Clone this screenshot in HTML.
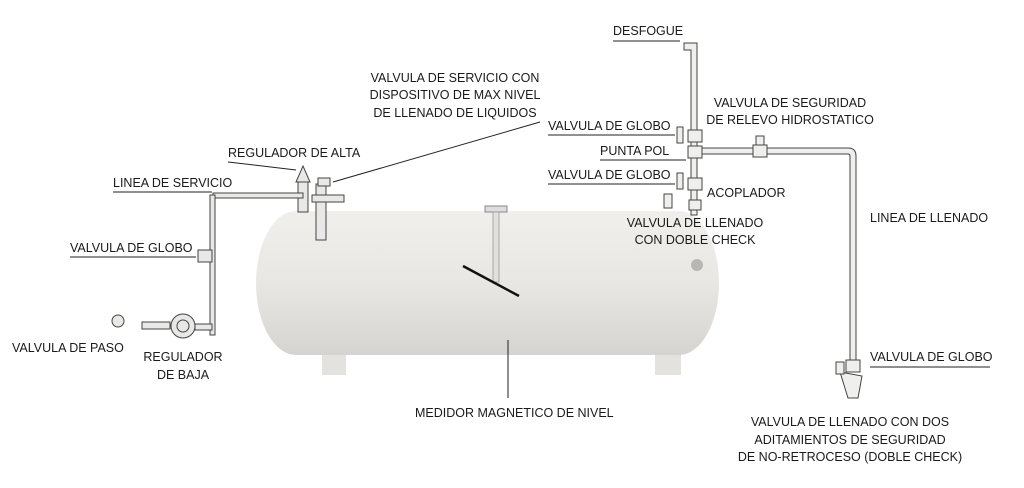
<!DOCTYPE html>
<html><head><meta charset="utf-8"><style>
html,body{margin:0;padding:0;background:#fff;}
svg{display:block}
text{font-family:"Liberation Sans Narrow","Liberation Sans",sans-serif;font-size:12.5px;fill:#1a1a1a;}
</style></head><body>
<svg width="1024" height="488" viewBox="0 0 1024 488">
<defs>
<linearGradient id="tg" x1="0" y1="0" x2="0" y2="1">
<stop offset="0" stop-color="#f0efec"/><stop offset="0.5" stop-color="#e9e7e3"/><stop offset="1" stop-color="#d6d4d0"/></linearGradient>
</defs>
<!-- legs -->
<rect x="322" y="335" width="24" height="40" fill="#e4e2de"/>
<rect x="655" y="335" width="26" height="40" fill="#e4e2de"/>
<!-- tank -->
<rect x="256" y="211" width="463" height="144" rx="40" ry="72" fill="url(#tg)"/>
<circle cx="697" cy="265" r="6" fill="#b9b7b3"/>
<!-- gauge -->
<rect x="485" y="206" width="22" height="6" fill="#ddd" stroke="#888"/>
<rect x="493" y="212" width="6" height="70" fill="#e2e0dc" stroke="#999" stroke-width="0.8"/>
<line x1="463" y1="266" x2="519" y2="296" stroke="#111" stroke-width="2.5"/>
<line x1="508" y1="340" x2="508" y2="398" stroke="#222" stroke-width="1"/>
<!-- left valves -->
<g fill="#e8e8e6" stroke="#444" stroke-width="1">
<rect x="298" y="182" width="10" height="30"/>
<path d="M296 182 L303 166 L310 182 Z"/>
<rect x="316" y="184" width="10" height="56"/>
<rect x="312" y="195" width="32" height="7"/>
<rect x="318" y="178" width="12" height="8"/>
<rect x="213" y="193" width="90" height="5"/>
<rect x="210" y="195" width="5" height="140"/>
<rect x="198" y="250" width="14" height="12"/>
<rect x="142" y="322" width="28" height="7"/>
<circle cx="183" cy="326" r="12"/><circle cx="183" cy="326" r="6"/>
<circle cx="118" cy="321" r="6"/>
<rect x="195" y="324" width="17" height="6"/>
</g>
<!-- right pipes -->
<g fill="#efefed" stroke="#444" stroke-width="1">
<path d="M684 43 L697 43 L697 215 L691 215 L691 50 L684 50 Z"/>
<rect x="688" y="130" width="14" height="12"/>
<rect x="677" y="127" width="6" height="16"/>
<rect x="688" y="146" width="14" height="12"/>
<path d="M702 148 L848 148 Q856 148 856 156 L856 360 L850 360 L850 156 Q850 154 848 154 L702 154 Z"/>
<rect x="753" y="145" width="14" height="12"/>
<rect x="756" y="136" width="8" height="9"/>
<rect x="688" y="178" width="14" height="12"/>
<rect x="677" y="173" width="6" height="16"/>
<rect x="689" y="200" width="12" height="10"/>
<rect x="664" y="194" width="8" height="14"/>
<rect x="846" y="360" width="14" height="12"/>
<path d="M840 372 L862 376 L858 398 L848 398 Z"/>
<rect x="836" y="362" width="8" height="12"/>
</g>
<!-- leaders -->
<g stroke="#222" stroke-width="1">
<line x1="613" y1="41" x2="680" y2="41"/>
<line x1="548" y1="135" x2="675" y2="135"/>
<line x1="600" y1="160" x2="686" y2="160"/>
<line x1="548" y1="184" x2="675" y2="184"/>
<line x1="540" y1="122" x2="333" y2="182"/>
<line x1="70" y1="257" x2="196" y2="257"/>
<line x1="113" y1="192" x2="212" y2="192"/>
<line x1="228" y1="162" x2="296" y2="170"/>
<line x1="870" y1="367" x2="990" y2="367"/>
</g>
<text x="613" y="35">DESFOGUE</text>
<text x="455" y="82" text-anchor="middle">VALVULA DE SERVICIO CON</text>
<text x="455" y="99" text-anchor="middle">DISPOSITIVO DE MAX NIVEL</text>
<text x="455" y="117" text-anchor="middle">DE LLENADO DE LIQUIDOS</text>
<text x="228" y="157">REGULADOR DE ALTA</text>
<text x="113" y="187">LINEA DE SERVICIO</text>
<text x="70" y="252">VALVULA DE GLOBO</text>
<text x="12" y="352">VALVULA DE PASO</text>
<text x="183" y="361" text-anchor="middle">REGULADOR</text>
<text x="183" y="379" text-anchor="middle">DE BAJA</text>
<text x="415" y="417">MEDIDOR MAGNETICO DE NIVEL</text>
<text x="548" y="130">VALVULA DE GLOBO</text>
<text x="600" y="155">PUNTA POL</text>
<text x="548" y="179">VALVULA DE GLOBO</text>
<text x="707" y="197">ACOPLADOR</text>
<text x="695" y="227" text-anchor="middle">VALVULA DE LLENADO</text>
<text x="695" y="244" text-anchor="middle">CON DOBLE CHECK</text>
<text x="790" y="107" text-anchor="middle">VALVULA DE SEGURIDAD</text>
<text x="790" y="124" text-anchor="middle">DE RELEVO HIDROSTATICO</text>
<text x="870" y="222">LINEA DE LLENADO</text>
<text x="870" y="361">VALVULA DE GLOBO</text>
<text x="850" y="426" text-anchor="middle">VALVULA DE LLENADO CON DOS</text>
<text x="850" y="444" text-anchor="middle">ADITAMIENTOS DE SEGURIDAD</text>
<text x="850" y="461" text-anchor="middle">DE NO-RETROCESO (DOBLE CHECK)</text>
</svg>
</body></html>
